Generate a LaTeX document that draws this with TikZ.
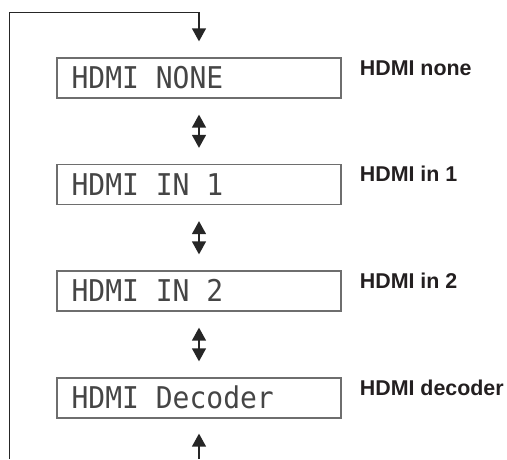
\documentclass[tikz,border=0pt]{standalone}
\usepackage{fontspec}
\usepackage{graphicx}
\setmainfont{Liberation Sans}
\newfontfamily\lcdfont{DejaVu Sans Mono}
\usetikzlibrary{arrows.meta,calc}
\definecolor{boxgray}{HTML}{6E6E6E}
\definecolor{lcdgray}{HTML}{454545}
\definecolor{labelink}{HTML}{231F20}
\newcommand{\lcdstretch}[1]{\scalebox{1}[1.07]{#1}}
\tikzset{
  lcdbox/.style={draw=boxgray, line width=1.3pt, minimum width=284pt, minimum height=40pt, inner sep=0pt},
  lcdtext/.style={font=\lcdfont\fontsize{28}{28}\selectfont, text=lcdgray, inner sep=0pt, anchor=base west},
  sidelabel/.style={font=\bfseries\fontsize{21.4}{21.4}\selectfont, text=labelink, inner sep=0pt, anchor=base west},
  flow/.style={line width=1.4pt, draw=black!85},
  tip/.style={-{Triangle[width=14pt,length=13pt]}},
  dtip/.style={{Triangle[width=14pt,length=13pt]}-{Triangle[width=14pt,length=13pt]}},
}
\begin{document}
\begin{tikzpicture}[x=1pt,y=1pt]
\useasboundingbox (0,0) rectangle (507,459);
% boxes (centres: x=199, y = 459 - (top+20))
\node[lcdbox] (b1) at (199,381) {};
\node[lcdbox] (b2) at (199,274.5) {};
\node[lcdbox] (b3) at (199,168) {};
\node[lcdbox] (b4) at (199,61) {};
% LCD texts
\node[lcdtext] (t1) at ($(b1.north west)+(15,-31.5)$) {\lcdstretch{HDMI NONE}};
\node[lcdtext] (t2) at ($(b2.north west)+(15,-31.5)$) {\lcdstretch{HDMI IN 1}};
\node[lcdtext] (t3) at ($(b3.north west)+(15,-31.5)$) {\lcdstretch{HDMI IN 2}};
\node[lcdtext] (t4) at ($(b4.north west)+(15,-31.5)$) {\lcdstretch{HDMI Decoder}};
% side labels
\node[sidelabel] (l1) at ($(b1.north east)+(18,-18)$) {HDMI none};
\node[sidelabel] (l2) at ($(b2.north east)+(18,-18)$) {HDMI in 1};
\node[sidelabel] (l3) at ($(b3.north east)+(18,-18)$) {HDMI in 2};
\node[sidelabel] (l4) at ($(b4.north east)+(18,-18)$) {HDMI decoder};
% arrows between boxes
\draw[flow,dtip,shorten <=16pt,shorten >=16pt] (b1.south) -- (b2.north);
\draw[flow,dtip,shorten <=16pt,shorten >=16pt] (b2.south) -- (b3.north);
\draw[flow,dtip,shorten <=16pt,shorten >=16pt] (b3.south) -- (b4.north);
% loop
\coordinate (loopstart) at (9.5,0);
\coordinate (loopbottom) at (b4.south |- loopstart);
\draw[flow,tip,shorten >=16pt] (loopstart) |- ($(b1.north)+(0,45)$) -- (b1.north);
\draw[flow,tip,shorten >=15pt] (loopbottom) -- (b4.south);
\end{tikzpicture}
\end{document}
